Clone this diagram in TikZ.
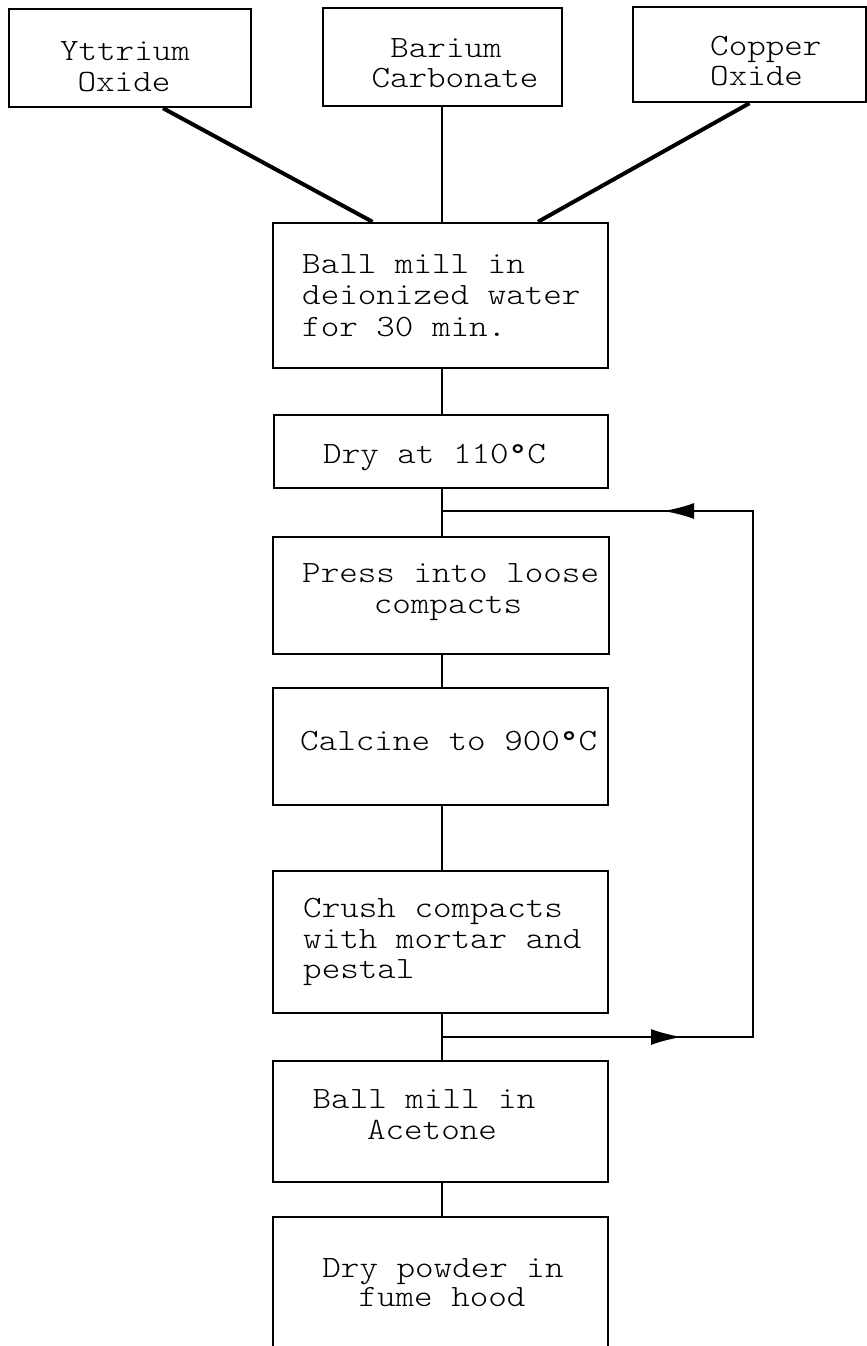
\documentclass[tikz,border=0pt]{standalone}
\usepackage{fontspec}
\newfontfamily\cour[FakeStretch=1.14]{lmmonolt10-regular.otf}
\newfontfamily\courreg[FakeStretch=1.14]{lmmono10-regular.otf}
\newcommand{\degsym}{{\courreg °}}
\usetikzlibrary{arrows.meta,calc,decorations.markings}
\begin{document}
\begin{tikzpicture}[x=1pt,y=-1pt,
  box/.style={draw, line width=2.4pt, rectangle, inner sep=0pt},
  lbl/.style={font=\cour\fontsize{31}{31}\selectfont, inner sep=0pt},
  link/.style={line width=2pt},
  diag/.style={line width=4pt},
  loopline/.style={line width=2.4pt}]
\fill[white] (0,0) rectangle (867,1346);
\useasboundingbox (0,0) rectangle (867,1346);
% boxes
\node[box, minimum width=242pt, minimum height=98pt] (Y) at (130,58) {};
\node[box, minimum width=239pt, minimum height=98pt] (B) at (442.5,57) {};
\node[box, minimum width=233pt, minimum height=95pt] (C) at (749.5,54.5) {};
\node[box, minimum width=335pt, minimum height=145pt] (M1) at (440.5,295.5) {};
\node[box, minimum width=334pt, minimum height=73pt] (D) at (441,451.5) {};
\node[box, minimum width=336pt, minimum height=117pt] (P) at (441,595.5) {};
\node[box, minimum width=335pt, minimum height=117pt] (Ca) at (440.5,746.5) {};
\node[box, minimum width=335pt, minimum height=142pt] (Cr) at (440.5,942) {};
\node[box, minimum width=335pt, minimum height=121pt] (A) at (440.5,1121.5) {};
\node[box, minimum width=335pt, minimum height=203pt] (F) at (440.5,1318.5) {};
% texts
\node[lbl, anchor=base] (y1) at (125,60) {Yttrium};
\node[lbl, anchor=base] (y2) at (124,91) {Oxide};
\node[lbl, anchor=base] (b1) at (446,57) {Barium};
\node[lbl, anchor=base] (b2) at (455,88) {Carbonate};
\node[lbl, anchor=base west] (c1) at (710,56) {Copper};
\node[lbl, anchor=base west] (c2) at (710,85) {Oxide};
\node[lbl, anchor=base west] (m1) at (302,273) {Ball mill in};
\node[lbl, anchor=base west] (m2) at (302,304) {deionized water};
\node[lbl, anchor=base west] (m3) at (302,336) {for 30 min.};
\node[lbl, anchor=base west] (d1) at (323,463) {Dry at 110\degsym C};
\node[lbl, anchor=base west] (p1) at (302,582) {Press into loose};
\node[lbl, anchor=base] (p2) at (448,613) {compacts};
\node[lbl, anchor=base west] (ca1) at (300,750) {Calcine to 900\degsym C};
\node[lbl, anchor=base west] (cr1) at (303,917) {Crush compacts};
\node[lbl, anchor=base west] (cr2) at (303,948) {with mortar and};
\node[lbl, anchor=base west] (cr3) at (303,978) {pestal};
\node[lbl, anchor=base] (a1) at (424,1108) {Ball mill in};
\node[lbl, anchor=base] (a2) at (432,1139) {Acetone};
\node[lbl, anchor=base] (f1) at (443,1277) {Dry powder in};
\node[lbl, anchor=base] (f2) at (442,1306) {fume hood};
% connectors
\coordinate (sp) at (442,0);
\draw[diag] ($(Y.south)+(33,0)$) -- ($(M1.north)+(-68,0)$);
\draw[link] (B.south -| sp) -- (M1.north -| sp);
\draw[diag] (C.south) -- ($(M1.north)+(97.5,0)$);
\draw[link] (M1.south -| sp) -- (D.north -| sp);
\draw[link] (D.south -| sp) -- (P.north -| sp);
\draw[link] (P.south -| sp) -- (Ca.north -| sp);
\draw[link] (Ca.south -| sp) -- (Cr.north -| sp);
\draw[link] (Cr.south -| sp) -- (A.north -| sp);
\draw[link] (A.south -| sp) -- (F.north -| sp);
% feedback loop
\coordinate (j1) at (442,511);
\coordinate (j2) at (442,1037);
\coordinate (r1) at (753,1037);
\coordinate (r2) at (753,511);
\draw[loopline, postaction={decorate}, decoration={markings,
   mark=at position 240pt with {\arrow{Latex[length=31pt,width=16pt]}},
   mark=at position 927pt with {\arrow{Latex[length=31pt,width=16pt]}}}]
   (j2) -- (r1) -- (r2) -- (j1);
\end{tikzpicture}
\end{document}
